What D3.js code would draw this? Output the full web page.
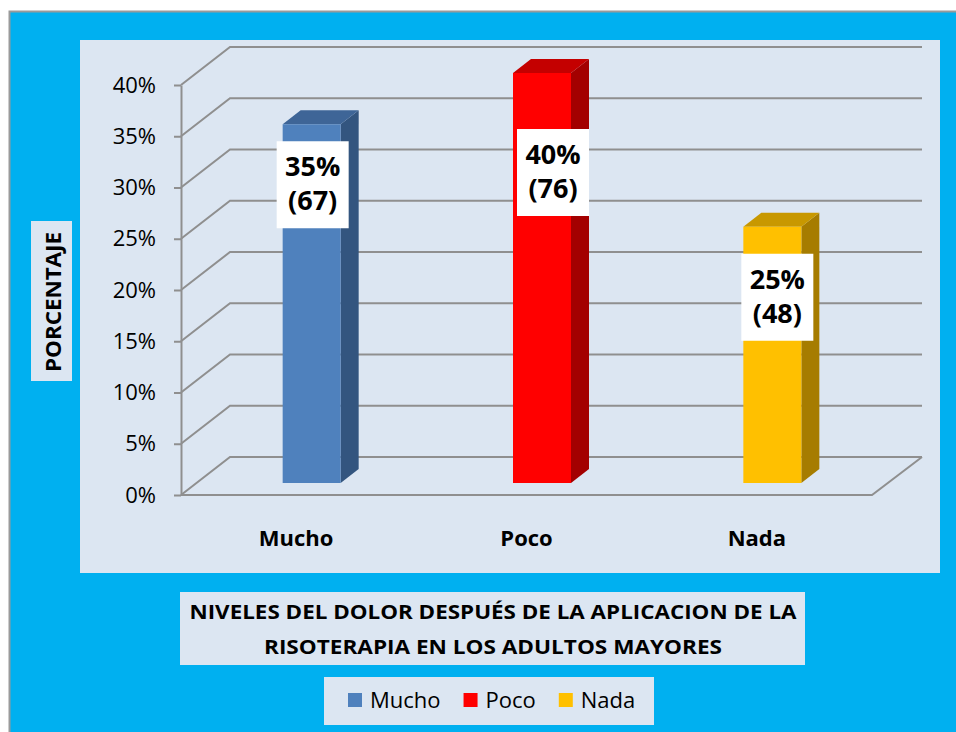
<!DOCTYPE html>
<html>
<head>
<meta charset="utf-8">
<script src="https://cdn.jsdelivr.net/npm/d3@7"></script>
<style>
  body { margin: 0; background: #fff; }
  text { font-family: "Open Sans", "Noto Sans", sans-serif; }
</style>
</head>
<body>
<script>
// datos del gráfico
var categories = ["Mucho", "Poco", "Nada"];
var percents = [0.35, 0.40, 0.25];
var counts = [67, 76, 48];
var yTicks = [0, 0.05, 0.10, 0.15, 0.20, 0.25, 0.30, 0.35, 0.40];
var titleLines = ["NIVELES DEL DOLOR DESPUÉS DE LA APLICACION DE LA", "RISOTERAPIA EN LOS ADULTOS MAYORES"];
var yTitle = "PORCENTAJE";

// estilos
var front = ["#4F81BD", "#FF0000", "#FFC000"],
    topC = ["#3E6597", "#C40000", "#C89800"],
    sideC = ["#33557F", "#A30000", "#A67C00"];
// desplazamiento de las etiquetas respecto a la barra (sólo posición)
var labelShift = [[-6, 17], [4, 56], [-2, 27]];

var W = 956, H = 732;
var svg = d3.select("body").append("svg")
    .attr("width", W).attr("height", H);

// fondo azul y área del gráfico
svg.append("rect").attr("x", 9.5).attr("y", 11.5).attr("width", W).attr("height", H)
    .attr("fill", "#00B0F0").attr("stroke", "#9a9a9a").attr("stroke-width", 2);
svg.append("rect").attr("x", 80).attr("y", 40).attr("width", 860).attr("height", 533)
    .attr("fill", "#DCE6F2");

// escalas
var x = d3.scaleBand().domain(categories).range([181, 872]);
var y = d3.scaleLinear().domain([0, 0.4]).range([495, 85]);
var DX = 49, DY = -38;           // profundidad de la pared
var bw = 58, bx = 15.5, by = -12, sdx = 18, sdy = -14;   // barras 3D

var grid = "#8f8f8f";
// líneas de cuadrícula (pared lateral + fondo)
svg.append("g").selectAll("polyline")
    .data(yTicks)
  .enter().append("polyline")
    .attr("points", function(d) {
      var yy = y(d);
      return [[181, yy], [181 + DX, yy + DY], [922, yy + DY]].join(" ");
    })
    .attr("fill", "none").attr("stroke", grid).attr("stroke-width", 2);

// suelo
svg.append("polyline")
    .attr("points", [[181, y(0)], [872, y(0)], [922, y(0) + DY]].join(" "))
    .attr("fill", "none").attr("stroke", grid).attr("stroke-width", 2);

// eje Y
var yAxis = svg.append("g")
    .attr("transform", "translate(181,0)")
    .call(d3.axisLeft(y).tickValues(yTicks).tickSize(7).tickSizeOuter(0)
      .tickPadding(18).tickFormat(d3.format(".0%")));
yAxis.selectAll("path, line").attr("stroke", grid).attr("stroke-width", 2);
yAxis.selectAll("text").attr("font-size", 22).attr("fill", "#000")
    .style("font-family", "'Open Sans', sans-serif");

// barras
var bars = svg.append("g").selectAll("g")
    .data(categories)
  .enter().append("g");

function fx(i) { return x(categories[i]) + x.bandwidth() / 2 - bw / 2 + bx; }

bars.append("polygon")
    .attr("points", function(d, i) {
      var l = fx(i), t = y(percents[i]) + by, b = y(0) + by;
      return [[l + bw, t], [l + bw + sdx, t + sdy], [l + bw + sdx, b + sdy], [l + bw, b]].join(" ");
    })
    .attr("fill", function(d, i) { return sideC[i]; });
bars.append("polygon")
    .attr("points", function(d, i) {
      var l = fx(i), t = y(percents[i]) + by;
      return [[l, t], [l + bw, t], [l + bw + sdx, t + sdy], [l + sdx, t + sdy]].join(" ");
    })
    .attr("fill", function(d, i) { return topC[i]; });
bars.append("rect")
    .attr("x", function(d, i) { return fx(i); })
    .attr("y", function(d, i) { return y(percents[i]) + by; })
    .attr("width", bw)
    .attr("height", function(d, i) { return y(0) - y(percents[i]); })
    .attr("fill", function(d, i) { return front[i]; });

// etiquetas de datos
var lab = svg.append("g").selectAll("g")
    .data(categories)
  .enter().append("g")
    .attr("transform", function(d, i) {
      return "translate(" + (fx(i) + labelShift[i][0]) + "," + (y(percents[i]) + by + labelShift[i][1]) + ")";
    });
lab.append("rect").attr("width", 72).attr("height", 87).attr("fill", "#fff");
lab.append("text").attr("x", 36).attr("y", 35)
    .attr("text-anchor", "middle").attr("font-size", 27).attr("font-weight", "bold")
    .text(function(d, i) { return Math.round(percents[i] * 100) + "%"; });
lab.append("text").attr("x", 36).attr("y", 69)
    .attr("text-anchor", "middle").attr("font-size", 27).attr("font-weight", "bold")
    .text(function(d, i) { return "(" + counts[i] + ")"; });

// etiquetas de categoría
svg.append("g").selectAll("text")
    .data(categories)
  .enter().append("text")
    .attr("x", function(d) { return x(d) + x.bandwidth() / 2; })
    .attr("y", 546)
    .attr("text-anchor", "middle").attr("font-size", 22).attr("font-weight", "bold")
    .text(function(d) { return d; });

// título del eje Y
svg.append("rect").attr("x", 31).attr("y", 221).attr("width", 41).attr("height", 160)
    .attr("fill", "#DCE6F2");
svg.append("text")
    .attr("transform", "translate(61,302) rotate(-90)")
    .attr("text-anchor", "middle").attr("font-size", 22).attr("font-weight", "bold")
    .attr("textLength", 140).attr("lengthAdjust", "spacingAndGlyphs")
    .text(yTitle);

// título
svg.append("rect").attr("x", 180).attr("y", 592).attr("width", 625).attr("height", 73)
    .attr("fill", "#DCE6F2");
var tLens = [607, 458];
svg.append("g").selectAll("text")
    .data(titleLines)
  .enter().append("text")
    .attr("x", 493)
    .attr("y", function(d, i) { return 619 + i * 35; })
    .attr("text-anchor", "middle").attr("font-size", 19).attr("font-weight", "bold")
    .attr("textLength", function(d, i) { return tLens[i]; })
    .attr("lengthAdjust", "spacingAndGlyphs")
    .text(function(d) { return d; });

// leyenda
svg.append("rect").attr("x", 324).attr("y", 677).attr("width", 330).attr("height", 48)
    .attr("fill", "#DCE6F2");
var lx = 348;
categories.forEach(function(c, i) {
  svg.append("rect").attr("x", lx).attr("y", 693).attr("width", 14).attr("height", 14)
      .attr("fill", front[i]);
  var t = svg.append("text").attr("x", lx + 22).attr("y", 708)
      .attr("font-size", 22).text(c);
  lx += 22 + t.node().getComputedTextLength() + 23;
});
</script>
</body>
</html>
